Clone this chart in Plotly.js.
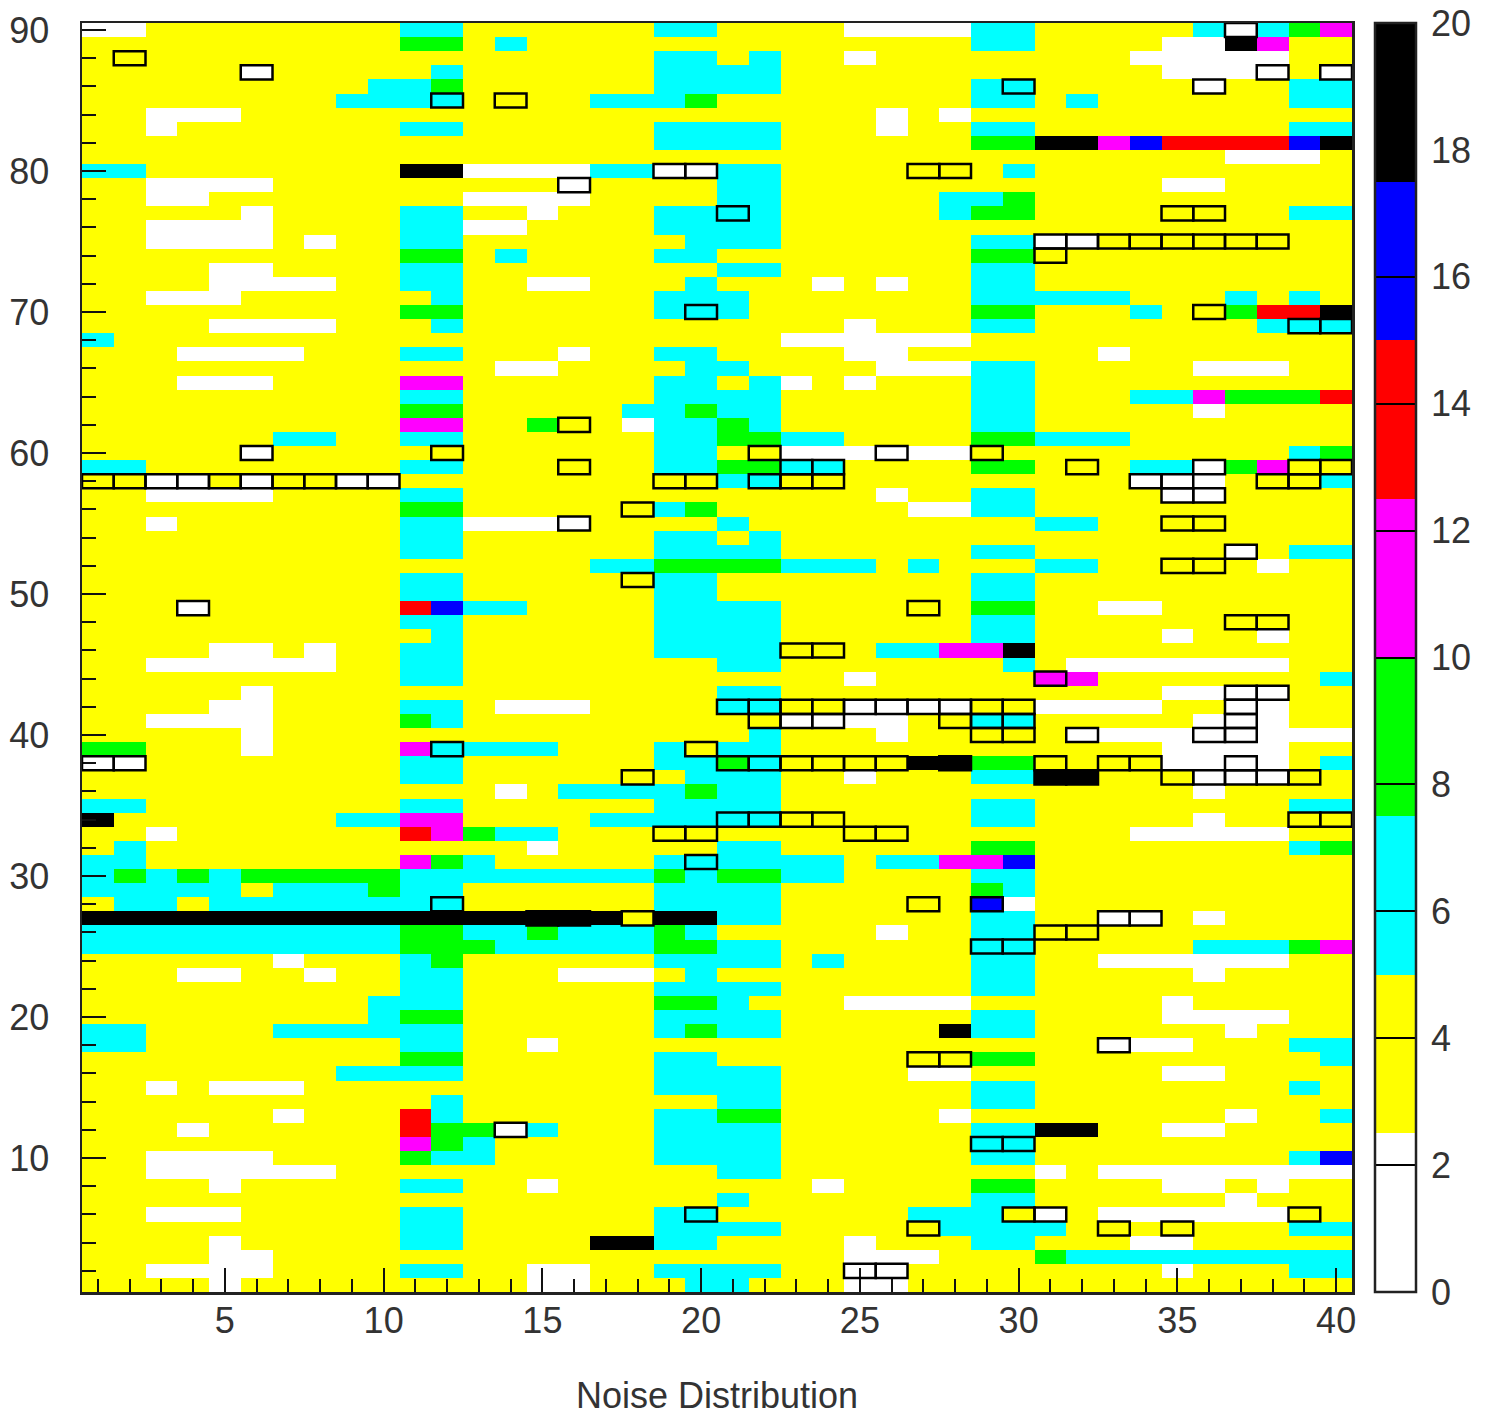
<!DOCTYPE html>
<html>
<head>
<meta charset="utf-8">
<script src="https://cdn.plot.ly/plotly-3.0.1.min.js"></script>
<style>html,body{margin:0;padding:0;background:#fff}</style>
</head>
<body>
<div id="chart" style="width:1492px;height:1416px"></div>
<script>
// one string per row, top row (90) first; one letter per column; '.' is the yellow band
var rowsTopDown = [
"ww........ cc......cc ....wwwwcc .....cwcgm",
".......... gg.c...... ........cc ....wwkm..",
".......... ........cc .c..w..... ...wwwww..",
".....w.... .c......cc cc........ ....wwww.w",
".........c cg......cc cc......cc .....w..cc",
"........cc cc....cccg ........cc .c......cc",
"..www..... .......... .....w.w.. ..........",
"..w....... cc......cc cc...w..cc ........cc",
".......... ........cc cc......gg kkmbrrrrbk",
".......... .......... .......... ......www.",
"cc........ kkwwwwccww cc.......c ..........",
"..wwww.... .....w.... cc........ ....ww....",
"..ww...... ..wwww.... cc.....ccg ..........",
".....w.... cc..w...cc cc.....cgg ........cc",
"..wwww.... ccww....cc cc........ ..........",
"..wwww.w.. cc.......c cc......cc ww........",
".......... gg.c....cc ........gg ..........",
"....ww.... cc........ cc......cc ..........",
"....wwww.. cc..ww...c ...w.w..cc ..........",
"..www..... .c......cc c.......cc ccc...c.c.",
".......... gg......cc c.......gg ...c..grrk",
"....wwww.. .c........ ....w...cc .......ccc",
"c......... .......... ..wwwwww.. ..........",
"...wwww... cc...w..cc ....ww.... ..w.......",
".......... ...ww....c c....wwwcc .....www..",
"...www.... mm......cc .cw.w...cc ..........",
".......... cc......cc cc......cc ...ccmgggr",
".......... gg.....ccg cc......cc .....w....",
".......... mm..g..wcc gc......cc ..........",
"......cc.. cc......cc ggcc....gg ccc.......",
".....w.... ........cc ..wwwwww.. ........cg",
"cc........ cc......cc ggcc....gg ...ccwgm..",
"..ww.w..ww .......... cc........ ...www...c",
"..wwww.... cc........ .....w..cc ....ww....",
".......... gg......cg ......wwcc ..........",
"..w....... ccwwww.... c......... cc........",
".......... cc......cc .c........ ..........",
".......... cc......cc cc......cc ......w.cc",
".......... ......ccgg ggccc.c... cc.....w..",
".......... cc......cc ........cc ..........",
".......... cc......cc ........cc ..........",
"...w...... rbcc....cc cc......gg ..ww......",
".......... cc......cc cc......cc ..........",
".......... .c......cc cc......cc ....w..w..",
"....ww.w.. cc......cc cc...ccmmk ..........",
"..wwwwww.. cc........ cc.......c .wwwwwww..",
".......... cc........ ....w..... mm.......c",
".....w.... .......... cc........ ....wwww..",
"....ww.... cc.www.... cc..wwww.. wwww..ww..",
"..wwww.... gc........ ..wwww..cc .....www..",
".....w.... .......... .c...w.... .wwwwwwwww",
"gg...w.... mcccc...c. cc........ ....wwww..",
"ww........ cc......cc gc....kkgg ....wwww.c",
".......... cc.......c cc..w...cc kk...www..",
".......... ...w.ccccg cc........ .....w....",
"cc........ cc......cc cc......cc ........cc",
"k.......cc mm....cccc cc......cc .....w....",
"..w....... rmgcc..... .......... ...wwwww..",
".c........ ....w..... cc......gg ........cg",
"cc........ mgc.....cc cccc.ccmmb ..........",
"cgcgcggggg ccccccccgc ggcc....cc ..........",
"ccccc.cccg cc......cc cc......gc ..........",
".cc.cccccc cc......cc cc......bw ..........",
"kkkkkkkkkk kkkkkkk.kk cc......cc ..ww.w....",
"cccccccccc ggccgcccgc .....w..cc ..........",
"cccccccccc gggcccccgg cc......cc .....cccgm",
"......w... cg......cc cc.c....cc ..wwwwww..",
"...ww..w.. cc...www.c ........cc .....w....",
".......... cc......cc cc......cc ..........",
".........c cc......gg c...wwww.. ....w.....",
".........c gg......cc cc......cc ....wwww..",
"cc....cccc cc......cg cc.....kcc ......w...",
"cc........ cc..w..... .......... ..www...cc",
".......... gg......cc ........gg .........c",
"........cc cc......cc cc....ww.. ....ww....",
"..w.www... ........cc cc......cc ........c.",
".......... .c........ cc......cc ..........",
"......w... rc......cc gg.....w.. ......w..c",
"...w...... rggwc...cc cc......cc kk..ww....",
".......... mgc.....cc cc......cc ..........",
"..wwww.... gcc.....cc cc......cc ........cb",
"..wwwwww.. .......... cc........ w.wwwwwwww",
"....w..... cc..w..... ...w....gg ....ww.w..",
".......... .......... c.......cc ......w...",
"..www..... cc......cc ......ccc. w.wwwwww..",
".......... cc......cc cc.....ccc c.......cc",
"....w..... cc....kkcc ....w...cc ...ww.....",
"....ww.... .......... ....www... gccccccccc",
"..wwww.... cc..ww..cc cc..ww.... ....w...cc",
"....w..... ....ww...c c...ww.... .........."
];
var levelLetters = ["w", ".", "c", "g", "m", "r", "b", "k"];
var levelValues  = [1, 4, 6, 9, 11, 14, 16, 19];
var levelColors  = ["#ffffff", "#ffff00", "#00ffff", "#00ff00", "#ff00ff", "#ff0000", "#0000ff", "#000000"];
var zMin = 0, zMax = 20;

// outlined bins: row number and the columns outlined in that row
var outlinedRows = [90,88,87,86,85,80,79,77,75,74,70,69,62,60,59,58,57,56,55,53,52,51,49,48,46,44,43,42,41,40,39,38,37,34,33,31,28,27,26,25,18,17,12,11,6,5,2];
var outlinedCols = [
[37],[2],[6,38,40],[30,36],[12,14],[19,20,27,28],[16],[21,35,36],[31,32,33,34,35,36,37,38],[31],[20,36],[39,40],[16],
[6,12,22,26,29],[16,23,24,32,36,39,40],[1,2,3,4,5,6,7,8,9,10,19,20,22,23,24,34,35,38,39],[35,36],[18],[16,35,36],[37],[35,36],[18],
[4,27],[37,38],[23,24],[31],[37,38],[21,22,23,24,25,26,27,28,29,30,37],[22,23,24,28,29,30,37],[29,30,32,36,37],[12,20],
[1,2,21,22,23,24,25,26,28,31,33,34,37],[18,31,32,35,36,37,38,39],[21,22,23,24,39,40],[19,20,25,26],[20],[12,27,29],[15,16,18,33,34],
[31,32],[29,30],[33],[27,28],[14],[29,30],[20,30,31,39],[27,33,35],[25,26]
];
var xTitle = "Noise Distribution";

var nRows = rowsTopDown.length;
var z = [], yVals = [], xVals = [];
rowsTopDown.forEach(function (s, i) {
  var cells = s.replace(/ /g, "").split("");
  z.push(cells.map(function (ch) { return levelValues[levelLetters.indexOf(ch)]; }));
  yVals.push(nRows - i);
  if (i === 0) { xVals = cells.map(function (_, j) { return j + 1; }); }
});

var colorscale = [];
levelColors.forEach(function (c, i) {
  colorscale.push([i / levelColors.length, c]);
  colorscale.push([(i + 1) / levelColors.length, c]);
});

var shapes = [];
outlinedRows.forEach(function (r, i) {
  outlinedCols[i].forEach(function (c) {
    shapes.push({type: "rect", xref: "x", yref: "y", x0: c - 0.5, x1: c + 0.5, y0: r - 0.5, y1: r + 0.5,
      line: {color: "#000", width: 2.5}, fillcolor: "rgba(0,0,0,0)", layer: "above"});
  });
});

var fontFamily = "Liberation Sans, Arial, sans-serif";
var tickFont = {family: fontFamily, size: 36, color: "#333"};
var axisCommon = {showgrid: false, zeroline: false, showline: true, mirror: true, linecolor: "#222", linewidth: 2.5,
  ticks: "inside", tickcolor: "#111", tickwidth: 2, ticklen: 24, tickfont: tickFont, layer: "above traces"};

Plotly.newPlot("chart", [{
  type: "heatmap", x: xVals, y: yVals, z: z, zmin: zMin, zmax: zMax, zsmooth: false,
  colorscale: colorscale, hoverinfo: "skip",
  colorbar: {
    thicknessmode: "pixels", thickness: 41, lenmode: "fraction", len: 1,
    x: 1.0181, xanchor: "left", xpad: 0, y: 0, yanchor: "bottom", ypad: 0,
    outlinecolor: "#222", outlinewidth: 2.5, borderwidth: 0,
    tickmode: "linear", tick0: 0, dtick: 2, ticks: "inside", ticklen: 41, tickwidth: 2, tickcolor: "#000",
    tickprefix: "\u2006", tickfont: tickFont
  }
}], {
  width: 1492, height: 1416, autosize: false,
  margin: {l: 82, r: 140, t: 23, b: 124, pad: 0, autoexpand: false},
  paper_bgcolor: "#fff", plot_bgcolor: "#fff",
  xaxis: Object.assign({}, axisCommon, {range: [0.5, 40.5], tick0: 0, dtick: 5, tickmode: "linear",
    ticklabelstandoff: -5,
    minor: {ticks: "inside", tick0: 0, dtick: 1, ticklen: 13, tickwidth: 2, tickcolor: "#111", showgrid: false},
    title: {text: xTitle, font: {family: fontFamily, size: 36, color: "#333"}, standoff: 48}}),
  yaxis: Object.assign({}, axisCommon, {range: [0.5, 90.5], tick0: 0, dtick: 10, tickmode: "linear",
    ticklabelstandoff: 23,
    minor: {ticks: "inside", tick0: 0, dtick: 2, ticklen: 14, tickwidth: 2, tickcolor: "#111", showgrid: false}}),
  shapes: shapes,
  showlegend: false
}, {displayModeBar: false, staticPlot: true});
</script>
</body>
</html>
